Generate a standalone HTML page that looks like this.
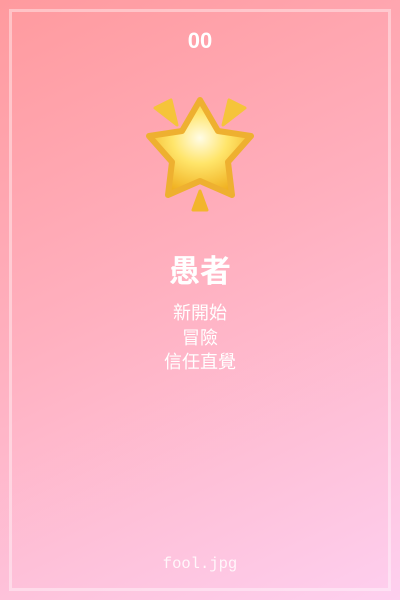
<!DOCTYPE html>
<html><head><meta charset="utf-8"><style>
html,body{margin:0;padding:0}
body{width:400px;height:600px;overflow:hidden;background:linear-gradient(155deg,#ff9a9e 0%,#ffb0bf 45%,#fecfef 100%);position:relative;font-family:"Liberation Sans","Noto Sans CJK TC",sans-serif;color:#fff}
.frame{position:absolute;left:9px;top:9px;width:376px;height:576px;border:3px solid rgba(255,255,255,0.4)}
.num{position:absolute;top:28px;width:100%;text-align:center;font-size:22px;font-weight:bold}
.title{position:absolute;top:246px;width:100%;text-align:center;font-size:31px;font-weight:bold}
.kw{position:absolute;top:301px;width:100%;text-align:center;font-size:18px;line-height:24.5px}
.file{position:absolute;top:555px;width:100%;text-align:center;font-family:"Liberation Mono",monospace;font-size:15.5px;color:rgba(255,255,255,0.85)}
svg{position:absolute;left:0;top:0}
</style></head><body>
<div class="frame"></div>
<div class="num">00</div>
<svg width="400" height="600">
<defs><radialGradient id="g" cx="0.5" cy="0.4" r="0.6"><stop offset="0" stop-color="#fffce6"/><stop offset="0.45" stop-color="#ffe56a"/><stop offset="1" stop-color="#f0b020"/></radialGradient></defs>
<polygon points="155,108 171,100 177,125" fill="#f5c43a" stroke="#f5c43a" stroke-width="3" stroke-linejoin="round"/>
<polygon points="245,108 229,100 223,125" fill="#f5c43a" stroke="#f5c43a" stroke-width="3" stroke-linejoin="round"/>
<polygon points="200,191 193,210 207,210" fill="#f2b52c" stroke="#f2b52c" stroke-width="3" stroke-linejoin="round"/>
<path d="M200,100 L218,131 L251,136 L228,162 L232,195 L200,181 L168,195 L172,162 L149,136 L182,131 Z" fill="url(#g)" stroke="#eeb030" stroke-width="6" stroke-linejoin="round"/>
</svg>
<div class="title">愚者</div>
<div class="kw">新開始<br>冒險<br>信任直覺</div>
<div class="file">fool.jpg</div>
</body></html>
